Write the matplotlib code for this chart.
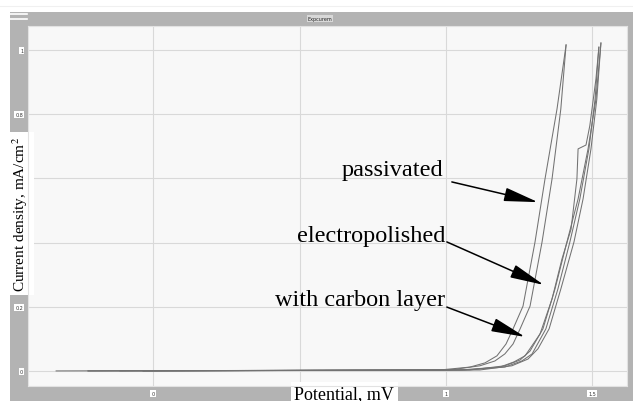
import matplotlib
matplotlib.use('Agg')
import matplotlib.pyplot as plt
from matplotlib.patches import Rectangle
from matplotlib.lines import Line2D

plt.rcParams['mathtext.fontset'] = 'stix'

# polarisation curves, potential (V) vs current density (mA/cm2)
pass_rev_x = [-0.034, 0.98, 1.082, 1.133, 1.174, 1.205, 1.229, 1.263, 1.304, 1.338, 1.379, 1.41]
pass_rev_y = [0.0, 0.003, 0.012, 0.025, 0.047, 0.084, 0.131, 0.202, 0.402, 0.598, 0.816, 1.016]
pass_fwd_x = [-0.222, 1.014, 1.116, 1.167, 1.201, 1.229, 1.253, 1.287, 1.328, 1.362, 1.392, 1.41]
pass_fwd_y = [0.0, 0.003, 0.016, 0.031, 0.053, 0.084, 0.131, 0.202, 0.402, 0.598, 0.816, 1.016]

elec_a_x = [-0.331, 1.082, 1.201, 1.253, 1.287, 1.331, 1.372, 1.413, 1.451, 1.485, 1.512, 1.529]
elec_a_y = [0.0, 0.003, 0.016, 0.034, 0.062, 0.131, 0.255, 0.402, 0.536, 0.692, 0.847, 1.022]
elec_b_x = [-0.222, 1.048, 1.184, 1.232, 1.27, 1.321, 1.362, 1.396, 1.427, 1.447, 1.451, 1.478, 1.491, 1.512, 1.522]
elec_b_y = [0.0, 0.003, 0.012, 0.028, 0.047, 0.115, 0.224, 0.349, 0.442, 0.598, 0.692, 0.704, 0.764, 0.91, 1.009]

carb_a_x = [-0.034, 1.116, 1.225, 1.28, 1.314, 1.352, 1.392, 1.437, 1.468, 1.495, 1.515, 1.529]
carb_a_y = [0.0, 0.003, 0.016, 0.037, 0.069, 0.131, 0.255, 0.402, 0.536, 0.692, 0.847, 1.022]
carb_b_x = [-0.113, 1.065, 1.201, 1.259, 1.294, 1.341, 1.382, 1.423, 1.457, 1.488, 1.509, 1.522]
carb_b_y = [0.0, 0.003, 0.012, 0.031, 0.053, 0.131, 0.255, 0.402, 0.536, 0.692, 0.847, 1.009]

curves = [(pass_rev_x, pass_rev_y), (pass_fwd_x, pass_fwd_y),
          (elec_a_x, elec_a_y), (elec_b_x, elec_b_y),
          (carb_a_x, carb_a_y), (carb_b_x, carb_b_y)]

# annotations: label, text anchor (x, y), arrow tip (x, y)
labels = ['passivated', 'electropolished', 'with carbon layer']
label_xy = [(0.99, 0.629), (0.997, 0.421), (0.997, 0.224)]
arrow_from = [(1.02, 0.589), (1.003, 0.402), (1.003, 0.199)]
arrow_to = [(1.314, 0.526), (1.334, 0.268), (1.27, 0.106)]

xticks = [0, 0.5, 1.0, 1.5]
xtick_labels = ['0', '', '1', '1.5']   # 0.5 sits under the axis title box
yticks = [0, 0.2, 0.4, 0.6, 0.8, 1.0]
ytick_labels = ['0', '0.2', '', '', '0.8', '1']   # 0.4/0.6 hidden by title box

W, H = 633, 402
fig = plt.figure(figsize=(W / 100, H / 100), dpi=100)
fig.patch.set_facecolor('white')

# gray window frame
frame = Rectangle((10 / W, 0), 1 - 10 / W, 1 - 13 / H, transform=fig.transFigure,
                  facecolor='#b3b3b3', edgecolor='none', zorder=-10)
fig.add_artist(frame)
fig.add_artist(Line2D([0, 1], [1 - 7 / H, 1 - 7 / H], transform=fig.transFigure,
                      color='#f0f0f0', lw=0.8, zorder=-5))
for yy in (15, 20):
    fig.add_artist(Line2D([10 / W, 27 / W], [1 - yy / H, 1 - yy / H],
                          transform=fig.transFigure, color='white', lw=1.2, zorder=-5))
fig.text(320 / W, 1 - 19.5 / H, 'Expcurem', fontsize=3.5, ha='center', va='center',
         color='#222222', bbox=dict(facecolor='#d8d8d8', edgecolor='none', pad=0.6))

ax = fig.add_axes([28 / W, 1 - 387 / H, 599 / W, 360 / H])
ax.set_zorder(1)
ax.set_facecolor('#f8f8f8')
for s in ax.spines.values():
    s.set_color('#e2e2e2')
    s.set_linewidth(0.8)

for cx, cy in curves:
    ax.plot(cx, cy, color='#727272', lw=0.75, zorder=3)

for lab, (tx, ty), p0, p1 in zip(labels, label_xy, arrow_from, arrow_to):
    ax.text(tx, ty, lab, ha='right', va='center', fontsize=17.5,
            family='Liberation Serif', color='black', zorder=5)
    ax.annotate('', xy=p1, xytext=p0, zorder=5,
                arrowprops=dict(arrowstyle='-|>,head_length=1.5,head_width=0.3',
                                mutation_scale=14, color='black', lw=1.1,
                                shrinkA=0, shrinkB=0))

ax.set_xlim(-0.427, 1.618)
ax.set_ylim(-0.047, 1.075)
ax.set_xticks(xticks, xtick_labels)
ax.set_yticks(yticks, ytick_labels)
ax.grid(True, color='#d9d9d9', lw=0.8)
ax.set_axisbelow(True)
ax.tick_params(length=0, labelsize=3.5, pad=3.5, colors='#333333')
for lbl in ax.get_xticklabels() + ax.get_yticklabels():
    if lbl.get_text():
        lbl.set_bbox(dict(facecolor='white', edgecolor='none', pad=0.8))

ax.set_xlabel('Potential, mV', fontsize=13, family='Liberation Serif', va='center',
              bbox=dict(facecolor='white', edgecolor='none', pad=2.5))
ax.xaxis.set_label_coords(0.528, -0.022)
ax.set_ylabel('Current density, mA/cm$^2$', fontsize=11, family='Liberation Serif',
              va='center', bbox=dict(facecolor='white', edgecolor='none', pad=3))
ax.yaxis.set_label_coords(-0.0134, 0.48)

fig.savefig('out.png', dpi=100)
